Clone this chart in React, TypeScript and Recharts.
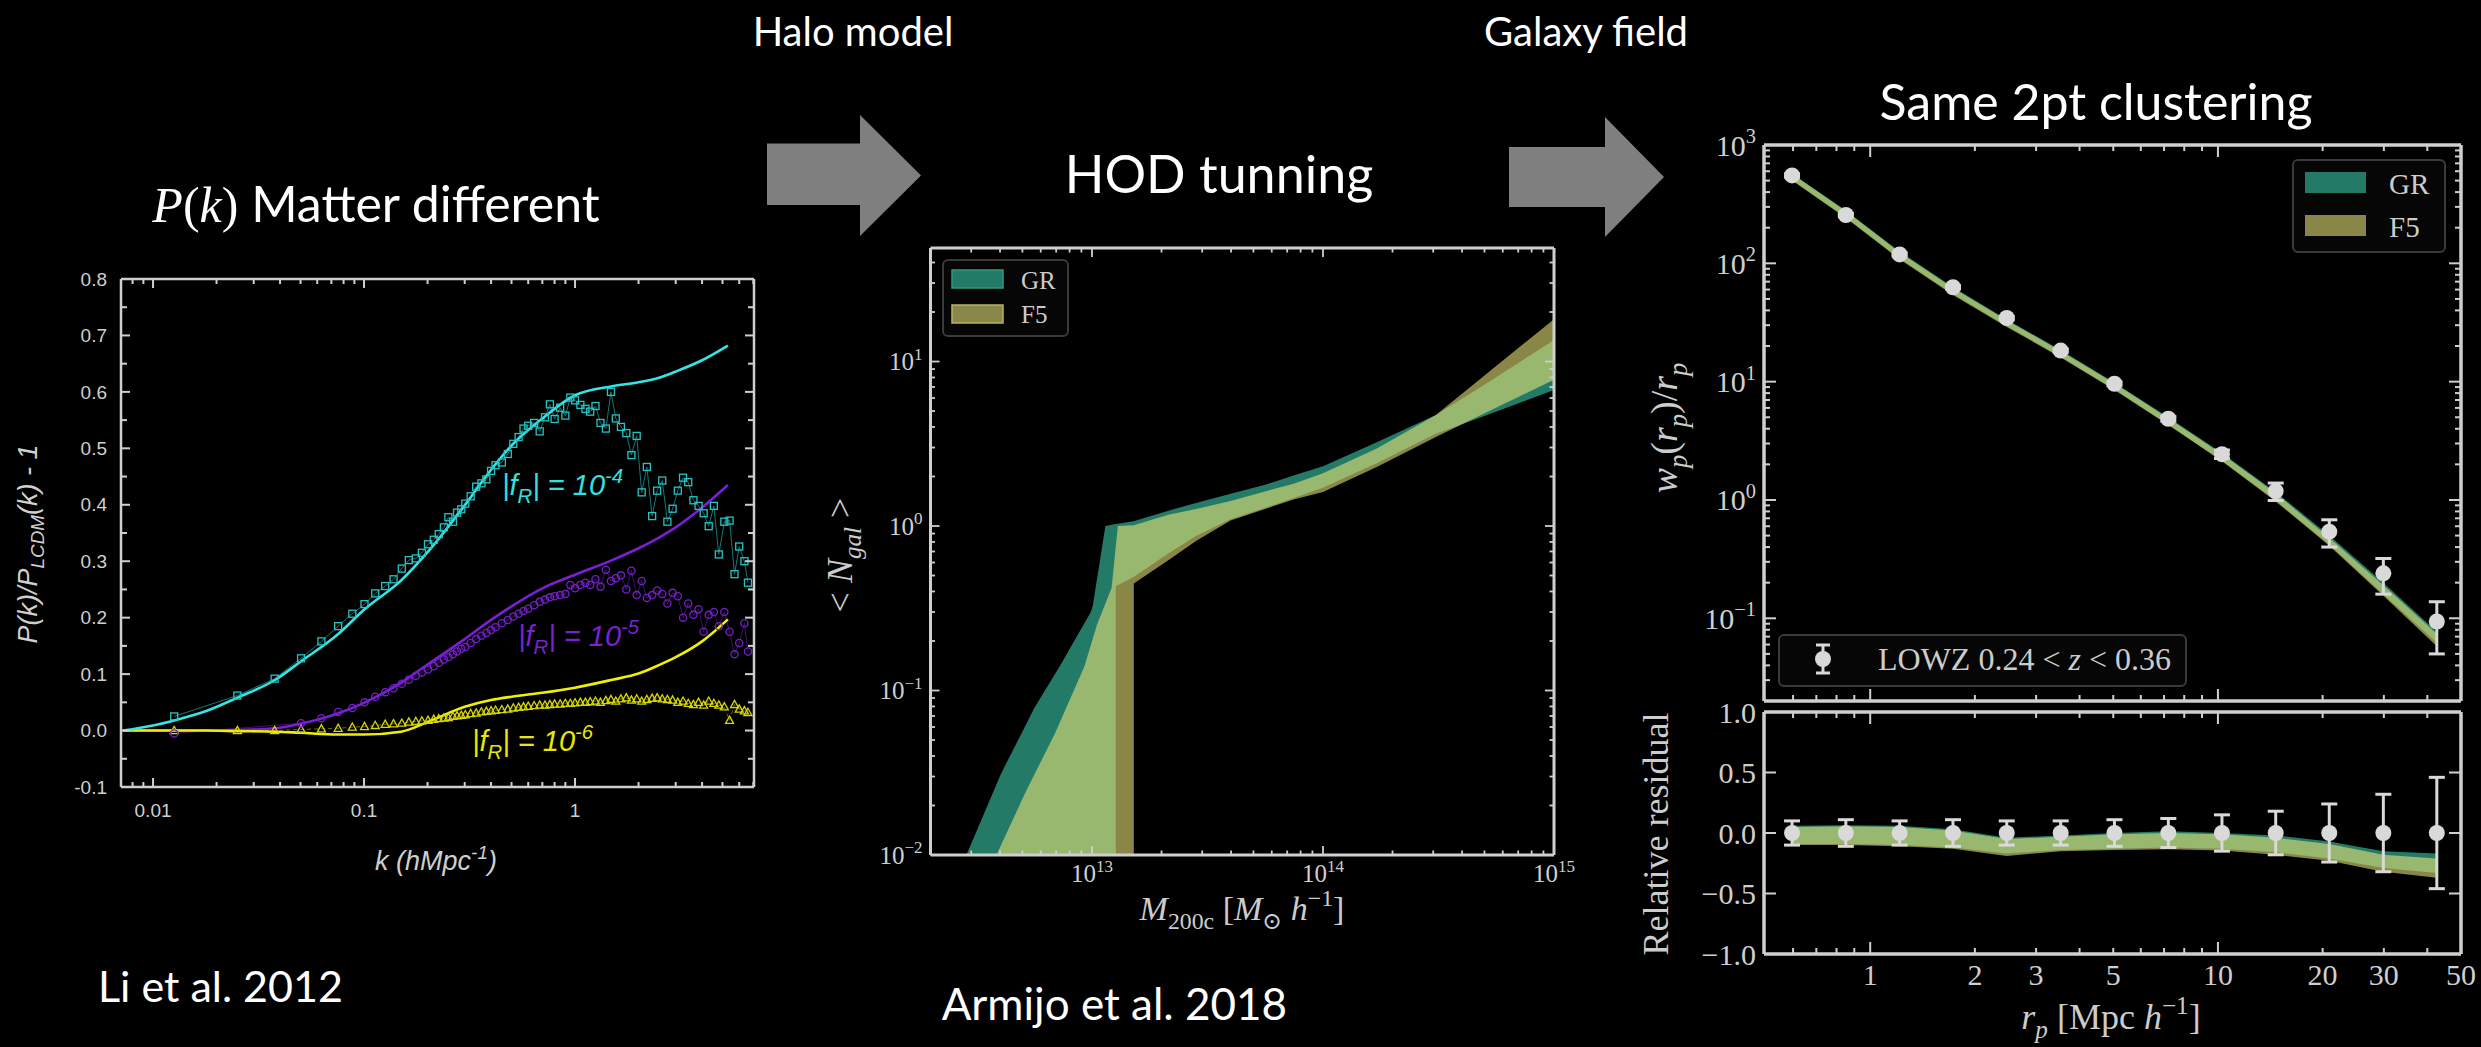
import React from 'react'
import { ComposedChart, Line, Area, Scatter, XAxis, YAxis, ErrorBar } from 'recharts'

// ---------- left panel: Li et al. 2012, P(k)/P_LCDM(k) - 1 ----------
const kTheory = [0.0072, 0.01, 0.0126, 0.018, 0.025, 0.038, 0.05, 0.075, 0.1, 0.15, 0.2, 0.3, 0.4, 0.5, 0.7, 1.0, 1.5, 2.0, 2.5, 3.0, 4.0, 5.3]
const fr4Theory = [0, 0.009, 0.018, 0.035, 0.058, 0.09, 0.122, 0.17, 0.214, 0.266, 0.316, 0.399, 0.462, 0.505, 0.553, 0.594, 0.61, 0.617, 0.625, 0.636, 0.656, 0.682]
const fr5Theory = [0, 0, 0, 0, 0.001, 0.004, 0.012, 0.03, 0.049, 0.085, 0.117, 0.162, 0.196, 0.22, 0.252, 0.276, 0.302, 0.323, 0.342, 0.36, 0.395, 0.435]
const fr6Theory = [0, 0, 0, 0, -0.001, -0.002, -0.004, -0.007, -0.007, -0.002, 0.015, 0.042, 0.054, 0.06, 0.067, 0.076, 0.09, 0.101, 0.116, 0.13, 0.158, 0.197]

const kSim = [
  0.0126, 0.0251, 0.0377, 0.0503, 0.0628, 0.0754, 0.088, 0.1005, 0.113, 0.126, 0.138, 0.151, 0.163, 0.176, 0.188, 0.201,
  0.214, 0.226, 0.239, 0.251, 0.264, 0.276, 0.289, 0.302, 0.32, 0.34, 0.36, 0.38, 0.4, 0.42, 0.45, 0.48, 0.51, 0.54, 0.57,
  0.6, 0.64, 0.68, 0.72, 0.76, 0.8, 0.85, 0.9, 0.95, 1.0, 1.06, 1.12, 1.18, 1.25, 1.32, 1.4, 1.48, 1.56, 1.65, 1.75, 1.85,
  1.96, 2.07, 2.19, 2.32, 2.45, 2.59, 2.74, 2.9, 3.07, 3.25, 3.44, 3.64, 3.85, 4.07, 4.3, 4.55, 4.8, 5.1, 5.4, 5.7, 6.0, 6.35, 6.6,
]
const fr4Sim = [
  0.025, 0.062, 0.092, 0.128, 0.158, 0.185, 0.207, 0.224, 0.243, 0.256, 0.268, 0.287, 0.302, 0.305, 0.315, 0.33,
  0.338, 0.348, 0.36, 0.378, 0.37, 0.386, 0.392, 0.402, 0.415, 0.432, 0.438, 0.445, 0.46, 0.47, 0.475, 0.49, 0.508, 0.52, 0.535,
  0.54, 0.545, 0.53, 0.555, 0.578, 0.552, 0.572, 0.558, 0.59, 0.585, 0.577, 0.57, 0.565, 0.575, 0.545, 0.535, 0.6, 0.553, 0.538, 0.527, 0.488,
  0.522, 0.422, 0.467, 0.38, 0.425, 0.443, 0.37, 0.393, 0.425, 0.448, 0.44, 0.408, 0.398, 0.385, 0.362, 0.398, 0.312, 0.37, 0.372, 0.277, 0.326, 0.3, 0.262,
]
const fr5Sim = [
  -0.005, null, null, 0.013, 0.022, 0.033, 0.04, 0.05, 0.06, 0.068, 0.075, 0.083, 0.09, 0.097, 0.103, 0.108,
  0.114, 0.12, 0.126, 0.13, 0.135, 0.14, 0.145, 0.148, 0.155, 0.162, 0.168, 0.173, 0.178, 0.183, 0.19, 0.196, 0.202, 0.207, 0.212,
  0.216, 0.222, 0.228, 0.232, 0.236, 0.238, 0.24, 0.242, 0.258, 0.252, 0.258, 0.262, 0.258, 0.268, 0.255, 0.285, 0.265, 0.27, 0.275, 0.25, 0.283,
  0.24, 0.265, 0.235, 0.24, 0.248, 0.242, 0.225, 0.244, 0.238, 0.2, 0.225, 0.205, 0.215, 0.175, 0.205, 0.21, 0.185, 0.21, 0.175, 0.135, 0.155, 0.19, 0.14,
]
const fr6Sim = [
  0.0, 0.0, 0.0, 0.002, 0.003, 0.004, 0.006, 0.007, 0.009, 0.011, 0.012, 0.013, 0.015, 0.016, 0.017, 0.018,
  0.02, 0.021, 0.022, 0.023, 0.025, 0.026, 0.027, 0.028, 0.03, 0.031, 0.033, 0.034, 0.035, 0.036, 0.037, 0.038, 0.04, 0.041, 0.042,
  0.043, 0.044, 0.045, 0.045, 0.046, 0.047, 0.047, 0.048, 0.048, 0.049, 0.05, 0.05, 0.051, 0.052, 0.05, 0.053, 0.055, 0.052, 0.056, 0.058, 0.054,
  0.056, 0.052, 0.055, 0.057, 0.058, 0.056, 0.055, 0.054, 0.05, 0.052, 0.048, 0.046, 0.05, 0.045, 0.052, 0.048, 0.045, 0.042, 0.018, 0.046, 0.038, 0.035, 0.032,
]
const kTicks = [0.008, 0.009, 0.01, 0.02, 0.03, 0.04, 0.05, 0.06, 0.07, 0.08, 0.09, 0.1, 0.2, 0.3, 0.4, 0.5, 0.6, 0.7, 0.8, 0.9, 1, 2, 3, 4, 5, 6, 7]
const pkTicks = [-0.1, -0.05, 0, 0.05, 0.1, 0.15, 0.2, 0.25, 0.3, 0.35, 0.4, 0.45, 0.5, 0.55, 0.6, 0.65, 0.7, 0.75, 0.8]

// ---------- middle panel: HOD <N_gal>(M) ----------
const grMass = [2.63e12, 2.86e12, 4.03e12, 5.62e12, 7.24e12, 9.89e12, 1.009e13, 1.143e13, 1.268e13, 1.268e13, 1.514e13, 2.14e13, 2.82e13, 3.98e13, 5.62e13, 7.46e13, 1e14, 1.718e14, 3.08e14, 4.9e14, 1e15]
const grLow = [0.001, 0.001, 0.001, 0.001, 0.001, 0.001, 0.001, 0.001, 0.001, 0.43, 0.49, 0.68, 0.87, 1.1, 1.29, 1.48, 1.71, 2.42, 3.64, 4.62, 6.71]
const grHigh = [0.0076, 0.01, 0.031, 0.078, 0.14, 0.3, 0.33, 1.0, 1.03, 1.03, 1.07, 1.24, 1.38, 1.57, 1.78, 2.03, 2.31, 3.24, 4.73, 7.11, 13.5]
const f5Mass = [3.55e12, 3.86e12, 5.18e12, 6.92e12, 9.27e12, 1.05e13, 1.216e13, 1.294e13, 1.517e13, 1.517e13, 2.14e13, 2.82e13, 3.98e13, 7.46e13, 1e14, 1.718e14, 3.08e14, 4.88e14, 1e15]
const f5Low = [0.001, 0.001, 0.001, 0.001, 0.001, 0.001, 0.001, 0.001, 0.001, 0.448, 0.62, 0.81, 1.08, 1.45, 1.61, 2.29, 3.48, 4.76, 7.76]
const f5High = [0.0076, 0.01, 0.0244, 0.055, 0.14, 0.25, 0.42, 1.0, 1.01, 1.01, 1.17, 1.27, 1.42, 1.81, 2.09, 2.97, 4.73, 8.0, 18.1]
const massTicks = [
  2e12, 3e12, 4e12, 5e12, 6e12, 7e12, 8e12, 9e12, 1e13, 2e13, 3e13, 4e13, 5e13, 6e13, 7e13, 8e13, 9e13,
  1e14, 2e14, 3e14, 4e14, 5e14, 6e14, 7e14, 8e14, 9e14, 1e15,
]
const ngalTicks = [
  0.01, 0.02, 0.03, 0.04, 0.05, 0.06, 0.07, 0.08, 0.09, 0.1, 0.2, 0.3, 0.4, 0.5, 0.6, 0.7, 0.8, 0.9,
  1, 2, 3, 4, 5, 6, 7, 8, 9, 10, 20, 30, 40,
]

// ---------- right panel: w_p(r_p)/r_p and residual ----------
const rpBins = [0.596, 0.851, 1.215, 1.73, 2.47, 3.53, 5.04, 7.2, 10.27, 14.66, 20.9, 29.9, 42.6]
const wpLowz = [553, 256, 119, 62.8, 34.5, 18.3, 9.6, 4.86, 2.44, 1.19, 0.54, 0.24, 0.094]
const wpLowzErr = [18, 8, 3.8, 2.0, 1.1, 0.6, 0.35, 0.22, 0.2, 0.2, 0.14, 0.08, 0.044]
const wpGrLow = [505, 245, 110, 55, 29.5, 16.2, 8.6, 4.35, 2.15, 0.99, 0.42, 0.16, 0.062]
const wpGrHigh = [575, 280, 126, 63, 33.5, 18.5, 9.8, 5.0, 2.5, 1.17, 0.5, 0.2, 0.077]
const wpF5Low = [500, 242, 108, 54, 29, 16, 8.5, 4.3, 2.12, 0.97, 0.41, 0.155, 0.058]
const wpF5High = [570, 277, 124, 62, 33, 18.2, 9.7, 4.9, 2.45, 1.14, 0.48, 0.19, 0.074]
const resLowz = [0, 0, 0, 0, 0, 0, 0, 0, 0, 0, 0, 0, 0]
const resLowzErr = [0.1, 0.11, 0.1, 0.11, 0.1, 0.1, 0.11, 0.12, 0.15, 0.18, 0.24, 0.32, 0.46]
const resGrLow = [-0.09, -0.09, -0.1, -0.12, -0.17, -0.14, -0.13, -0.12, -0.13, -0.16, -0.21, -0.29, -0.33]
const resGrHigh = [0.06, 0.065, 0.06, 0.03, -0.04, -0.02, 0.0, 0.015, 0.0, -0.02, -0.07, -0.15, -0.17]
const resF5Low = [-0.1, -0.1, -0.11, -0.13, -0.19, -0.15, -0.14, -0.135, -0.145, -0.18, -0.23, -0.32, -0.37]
const resF5High = [0.05, 0.055, 0.05, 0.02, -0.05, -0.03, -0.01, 0.0, -0.01, -0.04, -0.09, -0.18, -0.21]
const rpTicks = [0.6, 0.7, 0.8, 0.9, 1, 2, 3, 4, 5, 6, 7, 8, 9, 10, 20, 30, 40, 50]
const rpLabels = [1, 2, 3, 5, 10, 20, 30, 50]
const wpTicks = [
  0.03, 0.04, 0.05, 0.06, 0.07, 0.08, 0.09, 0.1, 0.2, 0.3, 0.4, 0.5, 0.6, 0.7, 0.8, 0.9, 1, 2, 3, 4, 5, 6, 7, 8, 9,
  10, 20, 30, 40, 50, 60, 70, 80, 90, 100, 200, 300, 400, 500, 600, 700, 800, 900, 1000,
]
const resTicks = [-1, -0.5, 0, 0.5, 1]

// ---------- styling ----------
const AX = '#cfcfcf'
const SLIDE_FONT = 'Lato, "Open Sans", sans-serif'
const TEX_FONT = '"Liberation Serif", "DejaVu Serif", serif'
const GR_FILL = 'rgb(58,203,170)'
const F5_FILL = 'rgb(230,223,117)'

const isDecade = (v: number) => Math.abs(Math.log10(v) - Math.round(Math.log10(v))) < 1e-6

function pow10(v: number, fs: number) {
  const e = Math.round(Math.log10(v))
  return [
    <tspan key="b">10</tspan>,
    <tspan key="e" dy={-fs * 0.42} fontSize={fs * 0.68}>{e < 0 ? '\u2212' + -e : String(e)}</tspan>,
  ]
}

type TickOpts = {
  side: 'bottom' | 'top' | 'left' | 'right'
  isMajor: (v: number) => boolean
  major: number
  minor: number
  sw: number
  label?: (v: number) => React.ReactNode
  gap?: number
  fs?: number
  family?: string
}

function tickFactory(o: TickOpts) {
  return (props: any) => {
    const { x, y, payload } = props
    const v = payload.value as number
    const len = o.isMajor(v) ? o.major : o.minor
    let x2 = x
    let y2 = y
    if (o.side === 'bottom') y2 = y - len
    if (o.side === 'top') y2 = y + len
    if (o.side === 'left') x2 = x + len
    if (o.side === 'right') x2 = x - len
    const lab = o.label ? o.label(v) : null
    const fs = o.fs ?? 20
    const gap = o.gap ?? 8
    let text = null
    if (lab != null && o.side === 'bottom') {
      text = (
        <text x={x} y={y + gap} textAnchor="middle" fontSize={fs} fontFamily={o.family} fill={AX}>
          {lab}
        </text>
      )
    }
    if (lab != null && o.side === 'left') {
      text = (
        <text x={x - gap} y={y + fs * 0.35} textAnchor="end" fontSize={fs} fontFamily={o.family} fill={AX}>
          {lab}
        </text>
      )
    }
    return (
      <g>
        {len > 0 && <line x1={x} y1={y} x2={x2} y2={y2} stroke={AX} strokeWidth={o.sw} />}
        {text}
      </g>
    )
  }
}

function marginFor(w: number, h: number, x0: number, y0: number, x1: number, y1: number) {
  return { left: x0 - 1, top: y0 - 1, right: w - x1 - 1, bottom: h - y1 - 1 }
}

// ---------- markers ----------
const SquareDot = (p: any) =>
  p.cy == null ? null : <rect x={p.cx - 3.5} y={p.cy - 3.5} width={7} height={7} fill="none" stroke="#27c4c4" strokeWidth={1.3} />
const CircleDot = (p: any) =>
  p.cy == null ? null : <circle cx={p.cx} cy={p.cy} r={3.6} fill="none" stroke="#7420c8" strokeWidth={1.3} />
const TriDot = (p: any) =>
  p.cy == null ? null : (
    <polygon points={`${p.cx},${p.cy - 4.2} ${p.cx - 4},${p.cy + 3} ${p.cx + 4},${p.cy + 3}`} fill="none" stroke="#d6d600" strokeWidth={1.3} />
  )
const LowzDot = (p: any) => <circle cx={p.cx} cy={p.cy} r={8} fill="#d9d9d9" />

type Seg = { t: string; it?: boolean; sub?: boolean; sup?: boolean }
function rich(segs: Seg[], fs: number) {
  let shift = 0
  return segs.map((s, i) => {
    const target = s.sub ? fs * 0.26 : s.sup ? -fs * 0.42 : 0
    const dy = target - shift
    shift = target
    return (
      <tspan key={i} dy={dy} fontSize={s.sub || s.sup ? fs * 0.7 : fs} fontStyle={s.it ? 'italic' : undefined}>
        {s.t}
      </tspan>
    )
  })
}

function LeftPanel() {
  const W = 800
  const H = 700
  const theory = kTheory.map((k, i) => ({ k, f4: fr4Theory[i], f5: fr5Theory[i], f6: fr6Theory[i] }))
  const sim = kSim.map((k, i) => ({ k, f4: fr4Sim[i], f5: fr5Sim[i], f6: fr6Sim[i] }))
  const xMajor = (v: number) => isDecade(v)
  const yMajor = (v: number) => Math.abs(v * 10 - Math.round(v * 10)) < 1e-6
  const font = '"Liberation Sans", Arial, sans-serif'
  return (
    <div style={{ position: 'absolute', left: 0, top: 200 }}>
      <ComposedChart width={W} height={H} margin={marginFor(W, H, 121, 79, 754, 587)}>
        <XAxis xAxisId="b" dataKey="k" type="number" scale="log" domain={[0.00705, 7.05]} allowDataOverflow ticks={kTicks} interval={0}
          height={1} tickSize={0} tickMargin={0} tickLine={false} axisLine={{ stroke: AX, strokeWidth: 2.5 }}
          tick={tickFactory({ side: 'bottom', isMajor: xMajor, major: 9, minor: 5, sw: 2, fs: 19, gap: 30, family: font,
            label: (v) => (isDecade(v) ? String(v) : null) })} />
        <XAxis xAxisId="t" orientation="top" dataKey="k" type="number" scale="log" domain={[0.00705, 7.05]} allowDataOverflow ticks={kTicks}
          interval={0} height={1} tickSize={0} tickMargin={0} tickLine={false} axisLine={{ stroke: AX, strokeWidth: 2.5 }}
          tick={tickFactory({ side: 'top', isMajor: xMajor, major: 9, minor: 5, sw: 2 })} />
        <YAxis yAxisId="l" type="number" domain={[-0.1, 0.8]} allowDataOverflow ticks={pkTicks} interval={0} width={1} tickSize={0}
          tickMargin={0} tickLine={false} axisLine={{ stroke: AX, strokeWidth: 2.5 }}
          tick={tickFactory({ side: 'left', isMajor: yMajor, major: 9, minor: 6, sw: 2, fs: 19, gap: 14, family: font,
            label: (v) => (yMajor(v) ? v.toFixed(1) : null) })} />
        <YAxis yAxisId="r" orientation="right" type="number" domain={[-0.1, 0.8]} allowDataOverflow ticks={pkTicks} interval={0}
          width={1} tickSize={0} tickMargin={0} tickLine={false} axisLine={{ stroke: AX, strokeWidth: 2.5 }}
          tick={tickFactory({ side: 'right', isMajor: yMajor, major: 9, minor: 6, sw: 2 })} />

        <Line xAxisId="b" yAxisId="l" data={sim} dataKey="f6" type="linear" stroke="#8c8c00" strokeWidth={0.8} strokeDasharray="4 3"
          dot={TriDot} activeDot={false} connectNulls isAnimationActive={false} />
        <Line xAxisId="b" yAxisId="l" data={sim} dataKey="f5" type="linear" stroke="#4d1785" strokeWidth={0.8}
          dot={CircleDot} activeDot={false} connectNulls isAnimationActive={false} />
        <Line xAxisId="b" yAxisId="l" data={sim} dataKey="f4" type="linear" stroke="#137878" strokeWidth={1}
          dot={SquareDot} activeDot={false} connectNulls isAnimationActive={false} />
        <Line xAxisId="b" yAxisId="l" data={theory} dataKey="f5" type="monotone" stroke="#7b1fd6" strokeWidth={2.6}
          dot={false} activeDot={false} isAnimationActive={false} />
        <Line xAxisId="b" yAxisId="l" data={theory} dataKey="f6" type="monotone" stroke="#f0f000" strokeWidth={2.6}
          dot={false} activeDot={false} isAnimationActive={false} />
        <Line xAxisId="b" yAxisId="l" data={theory} dataKey="f4" type="monotone" stroke="#35e4e4" strokeWidth={2.6}
          dot={false} activeDot={false} isAnimationActive={false} />
      </ComposedChart>
    </div>
  )
}

function MiddlePanel() {
  const W = 760
  const H = 720
  const gr = grMass.map((m, i) => ({ m, band: [grLow[i], grHigh[i]] }))
  const f5 = f5Mass.map((m, i) => ({ m, band: [f5Low[i], f5High[i]] }))
  const tick = (side: 'bottom' | 'top' | 'left' | 'right', labels: boolean) =>
    tickFactory({ side, isMajor: isDecade, major: 9, minor: 4.5, sw: 1.8, fs: 25, gap: side === 'bottom' ? 27 : 8,
      family: TEX_FONT, label: labels ? (v) => (isDecade(v) && (side !== 'bottom' || v >= 1e13) ? pow10(v, 25) : null) : undefined })
  return (
    <div style={{ position: 'absolute', left: 820, top: 220 }}>
      <ComposedChart width={W} height={H} margin={marginFor(W, H, 110.5, 28, 734, 635)}>
        <XAxis xAxisId="b" dataKey="m" type="number" scale="log" domain={[2e12, 1e15]} allowDataOverflow ticks={massTicks} interval={0}
          height={1} tickSize={0} tickMargin={0} tickLine={false} axisLine={{ stroke: AX, strokeWidth: 3 }} tick={tick('bottom', true)} />
        <XAxis xAxisId="t" orientation="top" dataKey="m" type="number" scale="log" domain={[2e12, 1e15]} allowDataOverflow ticks={massTicks}
          interval={0} height={1} tickSize={0} tickMargin={0} tickLine={false} axisLine={{ stroke: AX, strokeWidth: 3 }} tick={tick('top', false)} />
        <YAxis yAxisId="l" type="number" scale="log" domain={[0.01, 49]} allowDataOverflow ticks={ngalTicks} interval={0} width={1}
          tickSize={0} tickMargin={0} tickLine={false} axisLine={{ stroke: AX, strokeWidth: 3 }} tick={tick('left', true)} />
        <YAxis yAxisId="r" orientation="right" type="number" scale="log" domain={[0.01, 49]} allowDataOverflow ticks={ngalTicks}
          interval={0} width={1} tickSize={0} tickMargin={0} tickLine={false} axisLine={{ stroke: AX, strokeWidth: 3 }} tick={tick('right', false)} />
        <Area xAxisId="b" yAxisId="l" data={gr} dataKey="band" type="linear" stroke="none" fill={GR_FILL} fillOpacity={0.6}
          activeDot={false} isAnimationActive={false} />
        <Area xAxisId="b" yAxisId="l" data={f5} dataKey="band" type="linear" stroke="none" fill={F5_FILL} fillOpacity={0.6}
          activeDot={false} isAnimationActive={false} />
      </ComposedChart>
    </div>
  )
}

function ClusteringPanel() {
  const W = 861
  const H1 = 620
  const H2 = 367
  const top = rpBins.map((r, i) => ({ r, wp: wpLowz[i], err: wpLowzErr[i], gr: [wpGrLow[i], wpGrHigh[i]], f5: [wpF5Low[i], wpF5High[i]] }))
  const res = rpBins.map((r, i) => ({ r, res: resLowz[i], err: resLowzErr[i], gr: [resGrLow[i], resGrHigh[i]], f5: [resF5Low[i], resF5High[i]] }))
  const xMajor = (v: number) => isDecade(v)
  const xt = (side: 'bottom' | 'top', labels: boolean) =>
    tickFactory({ side, isMajor: xMajor, major: 12, minor: 6, sw: 2, fs: 30, gap: 31, family: TEX_FONT,
      label: labels ? (v) => (rpLabels.includes(v) ? String(v) : null) : undefined })
  const wpT = (side: 'left' | 'right', labels: boolean) =>
    tickFactory({ side, isMajor: isDecade, major: 12, minor: 6, sw: 2, fs: 30, gap: 8, family: TEX_FONT,
      label: labels ? (v) => (isDecade(v) && v >= 0.1 ? pow10(v, 30) : null) : undefined })
  const resT = (side: 'left' | 'right', labels: boolean) =>
    tickFactory({ side, isMajor: () => true, major: 12, minor: 12, sw: 2, fs: 30, gap: 8, family: TEX_FONT,
      label: labels ? (v) => (v < 0 ? '\u2212' + (-v).toFixed(1) : v.toFixed(1)) : undefined })
  const axisCommon = { tickSize: 0, tickMargin: 0, tickLine: false, interval: 0 as const, allowDataOverflow: true, axisLine: { stroke: AX, strokeWidth: 3.5 } }
  return (
    <>
      <div style={{ position: 'absolute', left: 1620, top: 100 }}>
        <ComposedChart width={W} height={H1} margin={marginFor(W, H1, 144, 45, 841, 601)}>
          <XAxis xAxisId="b" dataKey="r" type="number" scale="log" domain={[0.495, 50]} ticks={rpTicks} height={1} {...axisCommon} tick={xt('bottom', false)} />
          <XAxis xAxisId="t" orientation="top" dataKey="r" type="number" scale="log" domain={[0.495, 50]} ticks={rpTicks} height={1} {...axisCommon} tick={xt('top', false)} />
          <YAxis yAxisId="l" type="number" scale="log" domain={[0.02, 1000]} ticks={wpTicks} width={1} {...axisCommon} tick={wpT('left', true)} />
          <YAxis yAxisId="r" orientation="right" type="number" scale="log" domain={[0.02, 1000]} ticks={wpTicks} width={1} {...axisCommon} tick={wpT('right', false)} />
          <Area xAxisId="b" yAxisId="l" data={top} dataKey="gr" type="linear" stroke="none" fill={GR_FILL} fillOpacity={0.6} activeDot={false} isAnimationActive={false} />
          <Area xAxisId="b" yAxisId="l" data={top} dataKey="f5" type="linear" stroke="none" fill={F5_FILL} fillOpacity={0.6} activeDot={false} isAnimationActive={false} />
          <Scatter xAxisId="b" yAxisId="l" data={top} dataKey="wp" shape={LowzDot} isAnimationActive={false}>
            <ErrorBar dataKey="err" direction="y" width={8} stroke="#d9d9d9" strokeWidth={3} />
          </Scatter>
        </ComposedChart>
      </div>
      <div style={{ position: 'absolute', left: 1620, top: 680 }}>
        <ComposedChart width={W} height={H2} margin={marginFor(W, H2, 144, 32, 841, 274)}>
          <XAxis xAxisId="b" dataKey="r" type="number" scale="log" domain={[0.495, 50]} ticks={rpTicks} height={1} {...axisCommon} tick={xt('bottom', true)} />
          <XAxis xAxisId="t" orientation="top" dataKey="r" type="number" scale="log" domain={[0.495, 50]} ticks={rpTicks} height={1} {...axisCommon} tick={xt('top', false)} />
          <YAxis yAxisId="l" type="number" domain={[-1, 1]} ticks={resTicks} width={1} {...axisCommon} tick={resT('left', true)} />
          <YAxis yAxisId="r" orientation="right" type="number" domain={[-1, 1]} ticks={resTicks} width={1} {...axisCommon} tick={resT('right', false)} />
          <Area xAxisId="b" yAxisId="l" data={res} dataKey="gr" type="linear" stroke="none" fill={GR_FILL} fillOpacity={0.6} activeDot={false} isAnimationActive={false} />
          <Area xAxisId="b" yAxisId="l" data={res} dataKey="f5" type="linear" stroke="none" fill={F5_FILL} fillOpacity={0.6} activeDot={false} isAnimationActive={false} />
          <Scatter xAxisId="b" yAxisId="l" data={res} dataKey="res" shape={LowzDot} isAnimationActive={false}>
            <ErrorBar dataKey="err" direction="y" width={8} stroke="#d9d9d9" strokeWidth={3} />
          </Scatter>
        </ComposedChart>
      </div>
    </>
  )
}

function Overlay() {
  const tex = { fontFamily: TEX_FONT, fill: '#cccccc' }
  const arial = { fontFamily: '"Liberation Sans", Arial, sans-serif', fontStyle: 'italic' as const }
  return (
    <svg width={2481} height={1047} style={{ position: 'absolute', left: 0, top: 0, pointerEvents: 'none' }}>
      {/* slide titles */}
      <g fontFamily={SLIDE_FONT} fill="#ffffff">
        <text x={853} y={46} fontSize={40} textAnchor="middle">Halo model</text>
        <text x={1586} y={46} fontSize={40} textAnchor="middle">Galaxy field</text>
        <text x={1219} y={193} fontSize={52} textAnchor="middle">HOD tunning</text>
        <text x={2096} y={120} fontSize={50} textAnchor="middle">Same 2pt clustering</text>
        <text x={376} y={222} fontSize={50} textAnchor="middle">
          <tspan fontFamily={TEX_FONT} fontStyle="italic">P</tspan>
          <tspan fontFamily={TEX_FONT}>(</tspan>
          <tspan fontFamily={TEX_FONT} fontStyle="italic">k</tspan>
          <tspan fontFamily={TEX_FONT}>)</tspan>
          <tspan> Matter different</tspan>
        </text>
        <text x={98} y={1002} fontSize={43}>Li et al. 2012</text>
        <text x={1287} y={1020} fontSize={44} textAnchor="end">Armijo et al. 2018</text>
      </g>

      {/* arrows */}
      <polygon points="767,143.5 860,143.5 860,115 921,175.5 860,236 860,205 767,205" fill="#7f7f7f" />
      <polygon points="1509,147 1605,147 1605,117 1664,177 1605,237 1605,207 1509,207" fill="#7f7f7f" />

      {/* left panel axis titles and labels */}
      <text transform="translate(37,544) rotate(-90)" textAnchor="middle" fontSize={27} fill="#cfcfcf" {...arial}>
        {rich([{ t: 'P(k)/P' }, { t: 'LCDM', sub: true }, { t: '(k) - 1' }], 27)}
      </text>
      <text x={436} y={870} textAnchor="middle" fontSize={27} fill="#cfcfcf" {...arial}>
        {rich([{ t: 'k (hMpc' }, { t: '-1', sup: true }, { t: ')' }], 27)}
      </text>
      <text x={502} y={495} fontSize={29} fill="#33e0e0" {...arial}>
        {rich([{ t: '|f' }, { t: 'R', sub: true }, { t: '| = 10' }, { t: '-4', sup: true }], 29)}
      </text>
      <text x={518} y={646} fontSize={29} fill="#7a22d0" {...arial}>
        {rich([{ t: '|f' }, { t: 'R', sub: true }, { t: '| = 10' }, { t: '-5', sup: true }], 29)}
      </text>
      <text x={472} y={751} fontSize={29} fill="#e8e800" {...arial}>
        {rich([{ t: '|f' }, { t: 'R', sub: true }, { t: '| = 10' }, { t: '-6', sup: true }], 29)}
      </text>

      {/* middle panel */}
      <text transform="translate(852,555) rotate(-90)" textAnchor="middle" fontSize={36} {...tex}>
        {rich([{ t: '< ' }, { t: 'N', it: true }, { t: 'gal', it: true, sub: true }, { t: ' >' }], 36)}
      </text>
      <text x={1242} y={920} textAnchor="middle" fontSize={34} {...tex}>
        {rich([{ t: 'M', it: true }, { t: '200c', sub: true }, { t: ' [' }, { t: 'M', it: true }, { t: '\u2299', sub: true }, { t: ' ' },
          { t: 'h', it: true }, { t: '\u22121', sup: true }, { t: ']' }], 34)}
      </text>
      <rect x={943} y={260} width={125} height={76} rx={5} fill="#060606" stroke="#3a3a3a" strokeWidth={2} />
      <rect x={952} y={270} width={51} height={18} fill="#237a66" stroke="#2f9a80" strokeWidth={1.5} />
      <rect x={952} y={305} width={51} height={18} fill="#8a874a" stroke="#b8b460" strokeWidth={1.5} />
      <text x={1021} y={289} fontSize={25} {...tex}>GR</text>
      <text x={1021} y={323} fontSize={25} {...tex}>F5</text>

      {/* right panel */}
      <text transform="translate(1677,428) rotate(-90)" textAnchor="middle" fontSize={38} {...tex}>
        {rich([{ t: 'w', it: true }, { t: 'p', it: true, sub: true }, { t: '(' }, { t: 'r', it: true }, { t: 'p', it: true, sub: true },
          { t: ')/' }, { t: 'r', it: true }, { t: 'p', it: true, sub: true }], 38)}
      </text>
      <text transform="translate(1668,834) rotate(-90)" textAnchor="middle" fontSize={36} {...tex}>Relative residual</text>
      <text x={2111} y={1029} textAnchor="middle" fontSize={36} {...tex}>
        {rich([{ t: 'r', it: true }, { t: 'p', it: true, sub: true }, { t: ' [Mpc ' }, { t: 'h', it: true }, { t: '\u22121', sup: true }, { t: ']' }], 36)}
      </text>
      <rect x={2293} y={160} width={152} height={92} rx={5} fill="#060606" stroke="#3a3a3a" strokeWidth={2} />
      <rect x={2305} y={172} width={61} height={21} fill="#237a66" />
      <rect x={2305} y={215} width={61} height={21} fill="#898747" />
      <text x={2389} y={194} fontSize={29} {...tex}>GR</text>
      <text x={2389} y={237} fontSize={29} {...tex}>F5</text>
      <rect x={1779} y={635} width={407} height={51} rx={5} fill="#060606" stroke="#3a3a3a" strokeWidth={2} />
      <line x1={1823} y1={645} x2={1823} y2={673} stroke="#d9d9d9" strokeWidth={3} />
      <line x1={1816} y1={645} x2={1830} y2={645} stroke="#d9d9d9" strokeWidth={3} />
      <line x1={1816} y1={673} x2={1830} y2={673} stroke="#d9d9d9" strokeWidth={3} />
      <circle cx={1823} cy={659} r={8} fill="#d9d9d9" />
      <text x={1878} y={670} fontSize={32} {...tex}>
        LOWZ 0.24 {'<'} <tspan fontStyle="italic">z</tspan> {'<'} 0.36
      </text>
    </svg>
  )
}

export default function App() {
  return (
    <div style={{ position: 'absolute', left: 0, top: 0, width: 2481, height: 1047, background: '#000', overflow: 'hidden' }}>
      <LeftPanel />
      <MiddlePanel />
      <ClusteringPanel />
      <Overlay />
    </div>
  )
}
